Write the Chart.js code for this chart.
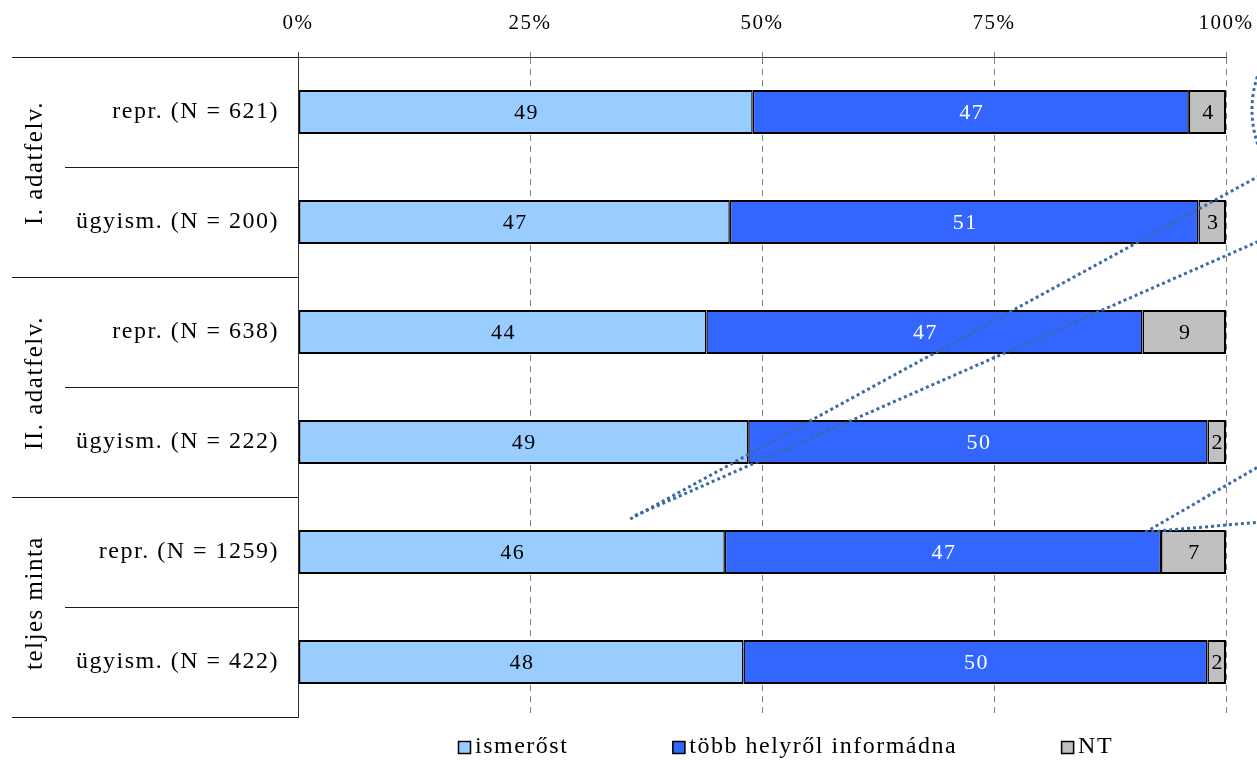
<!DOCTYPE html>
<html>
<head>
<meta charset="utf-8">
<script src="https://cdn.jsdelivr.net/npm/chart.js@4.4.1/dist/chart.umd.min.js"></script>
<style>
  html, body { margin: 0; padding: 0; background: #fff; }
  #wrap { width: 1257px; height: 760px; }
</style>
</head>
<body>
<div id="wrap"><canvas id="chart" width="1257" height="760"></canvas></div>
<script>
// Survey rows: two sub-samples per data collection wave
const categories = [
  'repr. (N = 621)', 'ügyism. (N = 200)',
  'repr. (N = 638)', 'ügyism. (N = 222)',
  'repr. (N = 1259)', 'ügyism. (N = 422)'
];
const groupLabels = ['I. adatfelv.', 'II. adatfelv.', 'teljes minta'];
const groupSizes = [2, 2, 2];

const seriesNames = ['ismerőst', 'több helyről informádna', 'NT'];
const ismerost    = [49, 47, 44, 49, 46, 48];
const tobbHelyrol = [47, 51, 47, 50, 47, 50];
const nt          = [4, 3, 9, 2, 7, 2];

const xTickValues = [0, 25, 50, 75, 100];

// Dotted callout leaders, in axis units: [percent, row index]
const calloutLeaders = [
  [[35.8, 3.70], [103.4, 0.59]],
  [[36.3, 3.67], [103.4, 1.18]],
  [[91.3, 3.82], [103.4, 3.23]],
  [[91.3, 3.82], [103.4, 3.73]]
];
const calloutRing = { center: [114.1, -0.02], radius: 11.3 };

const SERIF = '"Liberation Serif", "Times New Roman", serif';
const TRACK = '1.5px';

const series = [ismerost, tobbHelyrol, nt];
const rowTotals = categories.map((_, i) => series.reduce((s, arr) => s + arr[i], 0));

const styles = [
  { bg: '#99CCFF', text: '#000000', bw: { top: 2, bottom: 2, left: 2, right: 1.5 } },
  { bg: '#3366FF', text: '#FFFFFF', bw: { top: 2, bottom: 2, left: 1.5, right: 1.5 } },
  { bg: '#C0C0C0', text: '#000000', bw: { top: 2, bottom: 2, left: 1.5, right: 2 } }
];

const datasets = series.map((values, k) => ({
  label: seriesNames[k],
  raw: values,
  data: values.map((v, i) => v / rowTotals[i] * 100),
  backgroundColor: styles[k].bg,
  borderColor: '#000000',
  borderWidth: styles[k].bw,
  borderSkipped: false,
  valueColor: styles[k].text,
  categoryPercentage: 0.4,
  barPercentage: 1.0
}));

// Spaced-out serif lettering for all canvas text
const tracking = {
  id: 'tracking',
  beforeDraw(chart) { chart.ctx.letterSpacing = TRACK; }
};

// Value labels centred inside each segment
const segmentValues = {
  id: 'segmentValues',
  afterDatasetsDraw(chart) {
    const ctx = chart.ctx;
    ctx.save();
    ctx.letterSpacing = TRACK;
    ctx.font = '22px ' + SERIF;
    ctx.textAlign = 'center';
    ctx.textBaseline = 'middle';
    chart.data.datasets.forEach((ds, di) => {
      const meta = chart.getDatasetMeta(di);
      ctx.fillStyle = ds.valueColor;
      meta.data.forEach((bar, i) => {
        const p = bar.getProps(['x', 'y', 'base'], true);
        ctx.fillText(String(ds.raw[i]), (p.x + p.base) / 2 + 1, p.y + 1);
      });
    });
    ctx.restore();
  }
};

// Two-level row headers: separators and rotated wave names
const rowHeaders = {
  id: 'rowHeaders',
  afterDraw(chart) {
    const ctx = chart.ctx;
    const ys = chart.scales.y;
    const area = chart.chartArea;
    const step = ys.getPixelForValue(1) - ys.getPixelForValue(0);
    const top = ys.getPixelForValue(0) - step / 2;
    const groupEdges = new Set([0]);
    let acc = 0;
    groupSizes.forEach(n => { acc += n; groupEdges.add(acc); });

    ctx.save();
    ctx.strokeStyle = '#1a1a1a';
    ctx.lineWidth = 1;
    for (let k = 0; k <= categories.length; k++) {
      const y = Math.round(top + k * step) + 0.5;
      const x0 = groupEdges.has(k) ? 12 : 65;
      ctx.beginPath();
      ctx.moveTo(x0, y);
      ctx.lineTo(area.left, y);
      ctx.stroke();
    }

    ctx.letterSpacing = TRACK;
    ctx.font = '25px ' + SERIF;
    ctx.fillStyle = '#000';
    ctx.textAlign = 'center';
    ctx.textBaseline = 'middle';
    let start = 0;
    groupLabels.forEach((label, g) => {
      const cy = top + (start + groupSizes[g] / 2) * step;
      start += groupSizes[g];
      ctx.save();
      ctx.translate(35, cy - 4);
      ctx.rotate(-Math.PI / 2);
      ctx.fillText(label, 0, 0);
      ctx.restore();
    });
    ctx.restore();
  }
};

// Legend row beneath the plot
const bottomLegend = {
  id: 'bottomLegend',
  afterDraw(chart) {
    const ctx = chart.ctx;
    const area = chart.chartArea;
    ctx.save();
    ctx.letterSpacing = TRACK;
    ctx.font = '24px ' + SERIF;
    ctx.textBaseline = 'middle';
    ctx.textAlign = 'left';
    const box = 13, boxGap = 4, itemGap = 104;
    const items = chart.data.datasets.map(ds => ({
      text: ds.label, color: ds.backgroundColor, w: ctx.measureText(ds.label).width
    }));
    const total = items.reduce((s, it) => s + box + boxGap + it.w, 0) + itemGap * (items.length - 1);
    let x = Math.round((area.left + area.right) / 2 + 24 - total / 2);
    const cy = 747;
    items.forEach(it => {
      ctx.fillStyle = it.color;
      ctx.fillRect(x, cy - 6, box, box);
      ctx.strokeStyle = '#000';
      ctx.lineWidth = 1.5;
      ctx.strokeRect(x + 0.5, cy - 5.5, box - 1, box - 1);
      ctx.fillStyle = '#000';
      ctx.fillText(it.text, x + box + boxGap, cy);
      x += box + boxGap + it.w + itemGap;
    });
    ctx.restore();
  }
};

// Dotted callout leaders drawn on top of the plot
const callouts = {
  id: 'callouts',
  afterDraw(chart) {
    const ctx = chart.ctx;
    const xs = chart.scales.x, ys = chart.scales.y;
    const px = p => [xs.getPixelForValue(p[0]), ys.getPixelForValue(p[1])];
    ctx.save();
    ctx.strokeStyle = '#3A6BA5';
    ctx.lineWidth = 3;
    ctx.setLineDash([3, 3]);
    calloutLeaders.forEach(([a, b]) => {
      const p0 = px(a), p1 = px(b);
      ctx.beginPath();
      ctx.moveTo(p0[0], p0[1]);
      ctx.lineTo(p1[0], p1[1]);
      ctx.stroke();
    });
    const c = px(calloutRing.center);
    const r = xs.getPixelForValue(calloutRing.radius) - xs.getPixelForValue(0);
    ctx.beginPath();
    ctx.arc(c[0], c[1], r, 0, Math.PI * 2);
    ctx.stroke();
    ctx.restore();
  }
};

new Chart(document.getElementById('chart'), {
  type: 'bar',
  data: { labels: categories, datasets },
  options: {
    indexAxis: 'y',
    responsive: false,
    animation: false,
    devicePixelRatio: 1,
    layout: { padding: { left: 0, right: 31, top: 0, bottom: 43 } },
    plugins: { legend: { display: false }, tooltip: { enabled: false } },
    scales: {
      x: {
        position: 'top',
        stacked: true,
        min: 0,
        max: 100,
        afterBuildTicks: s => { s.ticks = xTickValues.map(v => ({ value: v })); },
        afterFit: s => { s.height = 57; s.paddingLeft = 0; s.paddingRight = 0; },
        ticks: {
          callback: v => v + '%',
          color: '#000',
          font: { family: SERIF, size: 21 },
          padding: 16,
          maxRotation: 0
        },
        grid: {
          color: c => (c.index === 0 ? 'rgba(0,0,0,0)' : '#808080'),
          tickColor: c => (c.index === 0 ? '#333' : '#808080'),
          tickLength: 5,
          lineWidth: 1
        },
        border: { display: true, color: '#333', width: 1, dash: [6, 5] }
      },
      y: {
        stacked: true,
        afterFit: s => { s.width = 298; },
        ticks: {
          color: '#000',
          font: { family: SERIF, size: 24 },
          padding: 19
        },
        grid: { display: false, drawTicks: false },
        border: { display: true, color: '#333', width: 1 }
      }
    }
  },
  plugins: [tracking, segmentValues, rowHeaders, bottomLegend, callouts]
});
</script>
</body>
</html>
